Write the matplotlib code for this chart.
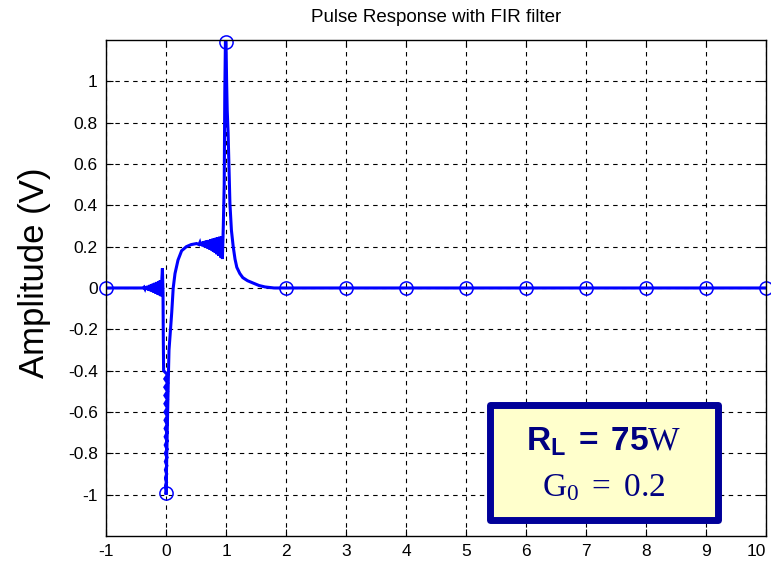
import matplotlib
matplotlib.use('Agg')
import matplotlib.pyplot as plt
from matplotlib.patches import FancyBboxPatch

plt.rcParams['font.family'] = ['Liberation Sans', 'DejaVu Sans']
plt.rcParams['axes.unicode_minus'] = False
plt.rcParams['mathtext.fontset'] = 'custom'
plt.rcParams['mathtext.rm'] = 'Liberation Serif'
plt.rcParams['mathtext.it'] = 'Liberation Serif:italic'
plt.rcParams['mathtext.bf'] = 'Liberation Sans:bold'

# pulse response trace
t = [-1.0, -0.38,
     -0.365, -0.35, -0.335, -0.32, -0.305, -0.29, -0.275, -0.26, -0.245, -0.23,
     -0.215, -0.20, -0.185, -0.17, -0.155, -0.14, -0.125, -0.11, -0.095, -0.08,
     -0.068, -0.06, -0.05, -0.045, -0.04,
     0.025, -0.02, 0.025, -0.02, 0.024, -0.019, 0.023, -0.018, 0.022, -0.017,
     0.021, -0.016, 0.02, -0.015, 0.019, -0.014, 0.018, -0.013, 0.017, -0.012,
     0.016, -0.011, 0.014, -0.01, 0.012, -0.008, 0.01, -0.006, 0.006, 0.0,
     0.02, 0.04, 0.05, 0.075, 0.095, 0.12, 0.15, 0.2, 0.26, 0.34, 0.42, 0.51,
     0.55, 0.565, 0.58, 0.595, 0.61, 0.625, 0.64, 0.655, 0.67, 0.685, 0.70, 0.715,
     0.73, 0.745, 0.76, 0.775, 0.79, 0.805, 0.82, 0.835, 0.85, 0.865, 0.88, 0.895,
     0.91, 0.925,
     0.94, 0.955, 0.97, 0.98, 0.99, 1.0, 1.01, 1.02, 1.035, 1.05, 1.065, 1.09,
     1.12, 1.15, 1.18, 1.23, 1.28, 1.36, 1.45, 1.55, 1.65, 1.8, 10.0]
v = [0.0, 0.0,
     0.004, -0.005, 0.007, -0.008, 0.010, -0.012, 0.014, -0.015, 0.017, -0.019,
     0.021, -0.023, 0.025, -0.027, 0.029, -0.031, 0.033, -0.035, 0.038, -0.04,
     0.05, 0.095, -0.02, -0.25, -0.4,
     -0.42, -0.44, -0.46, -0.48, -0.50, -0.52, -0.54, -0.56, -0.58, -0.60,
     -0.62, -0.64, -0.66, -0.68, -0.70, -0.72, -0.74, -0.76, -0.78, -0.80,
     -0.82, -0.84, -0.86, -0.88, -0.90, -0.92, -0.94, -0.96, -0.98, -1.0,
     -0.7, -0.42, -0.3, -0.2, -0.12, 0.0, 0.07, 0.135, 0.18, 0.2, 0.21, 0.215,
     0.21, 0.22, 0.205, 0.222, 0.202, 0.225, 0.198, 0.228, 0.195, 0.23, 0.19, 0.232,
     0.186, 0.235, 0.182, 0.238, 0.176, 0.24, 0.17, 0.243, 0.163, 0.246, 0.156, 0.248,
     0.148, 0.25,
     0.14, 0.3, 0.5, 0.95, 1.19, 1.19, 1.0, 0.86, 0.75, 0.58, 0.41, 0.28,
     0.2, 0.14, 0.1, 0.07, 0.05, 0.035, 0.024, 0.012, 0.005, 0.0, 0.0]

# circle markers at the integer sample points
mark_t = [-1, 0, 1, 2, 3, 4, 5, 6, 7, 8, 9, 10]
mark_v = [0, -0.99, 1.19, 0, 0, 0, 0, 0, 0, 0, 0, 0]

xticks = list(range(-1, 11))
yticks = [-1, -0.8, -0.6, -0.4, -0.2, 0, 0.2, 0.4, 0.6, 0.8, 1]
ytick_labels = ['-1', '-0.8', '-0.6', '-0.4', '-0.2', '0', '0.2', '0.4', '0.6', '0.8', '1']

fig = plt.figure(figsize=(7.71, 5.63), dpi=100)
ax = fig.add_axes([0.1375, 0.048, 0.856, 0.881])

ax.plot(t, v, color='#0000ff', lw=2.2, solid_joinstyle='miter')
ax.plot(mark_t, mark_v, 'o', ms=9.5, mfc='none', mec='#0000ff', mew=1.1, clip_on=False)

ax.set_xlim(-1, 10)
ax.set_ylim(-1.2, 1.2)
ax.set_xticks(xticks)
ax.set_yticks(yticks)
ax.set_yticklabels(ytick_labels)
ax.tick_params(direction='in', top=True, right=True, length=5, width=0.8,
               labelsize=12.5, pad=6)
ax.get_xticklabels()[-1].set_horizontalalignment('right')
ax.grid(True, color='black', linestyle=(0, (4, 4)), linewidth=0.8)
for s in ax.spines.values():
    s.set_linewidth(1.0)

ax.set_title('Pulse Response with FIR filter', fontsize=13.5, pad=13)
fig.text(0.045, 0.515, 'Amplitude (V)', rotation=90, fontsize=25,
         ha='center', va='center')

# annotation box
box = FancyBboxPatch((490 / 771, 1 - 520 / 563), 228 / 771, 115 / 563,
                     boxstyle='square,pad=0', transform=fig.transFigure,
                     facecolor='#ffffcc', edgecolor='#000099', lw=5,
                     joinstyle='round', zorder=5)
fig.patches.append(box)
fig.text(604 / 771, 1 - 442 / 563, r'$\mathbf{R_L\ =\ 75}\mathrm{W}$',
         fontsize=24, color='#000080', ha='center', va='center', zorder=6)
fig.text(604 / 771, 1 - 488 / 563, r'$\mathrm{G_0\ =\ 0.2}$',
         fontsize=24, color='#000080', ha='center', va='center', zorder=6)

fig.savefig('out.png', dpi=100)
